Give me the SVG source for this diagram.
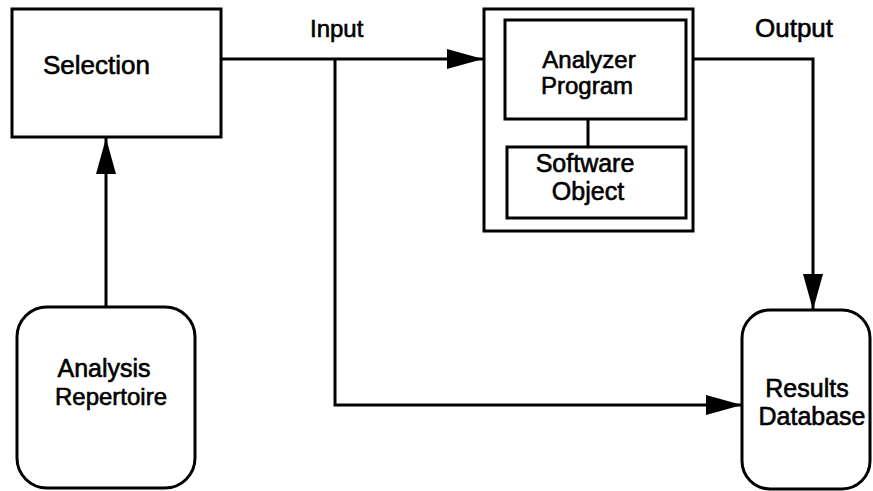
<svg xmlns="http://www.w3.org/2000/svg" width="873" height="491" viewBox="0 0 873 491">
<style>
.box{fill:#fff;stroke:#000;stroke-width:3}
.ln{fill:none;stroke:#000;stroke-width:3}
text{font-family:"Liberation Sans",Arial,Helvetica,sans-serif;font-size:24px;fill:#000;stroke:#000;stroke-width:0.6}
.m{text-anchor:middle}
</style>
<defs>
<marker id="ah" viewBox="0 0 36 20" refX="36" refY="10" markerWidth="36" markerHeight="20" markerUnits="userSpaceOnUse" orient="auto">
<path d="M0,0 L36,10 L0,20 Z" fill="#000"/>
</marker>
</defs>
<rect width="873" height="491" fill="#fff"/>
<g id="selection">
<rect class="box" x="12" y="9" width="209" height="128"/>
<text x="43" y="74" style="font-size:26px">Selection</text>
</g>
<g id="analyzer">
<rect class="box" x="484" y="9" width="209" height="222"/>
<g id="analyzer-program">
<rect class="box" x="505" y="20" width="181" height="99"/>
<text class="m" x="589" y="68">Analyzer</text>
<text class="m" x="587" y="94">Program</text>
</g>
<g id="software-object">
<rect class="box" x="507" y="147" width="179" height="71"/>
<text class="m" x="585" y="172" style="font-size:25px">Software</text>
<text class="m" x="588" y="200" style="font-size:25px">Object</text>
</g>
</g>
<g id="analysis-repertoire">
<rect class="box" x="17" y="307" width="178" height="181" rx="30"/>
<text class="m" x="104" y="377" style="font-size:25px">Analysis</text>
<text class="m" x="111" y="405">Repertoire</text>
</g>
<g id="results-database">
<rect class="box" x="742" y="310" width="128" height="179" rx="28"/>
<text class="m" x="807" y="397" style="font-size:25px">Results</text>
<text class="m" x="812" y="425" style="font-size:25px">Database</text>
</g>
<g id="labels">
<text x="310" y="37">Input</text>
<text x="755" y="37" style="font-size:26px">Output</text>
</g>
<g id="connectors">
<path class="ln" d="M221,59 H483" marker-end="url(#ah)"/>
<path class="ln" d="M335,59 V405 H742" marker-end="url(#ah)"/>
<path class="ln" d="M693,59 H813 V310" marker-end="url(#ah)"/>
<path class="ln" d="M106,307 V138" marker-end="url(#ah)"/>
<path class="ln" d="M588,119 V147"/>
</g>
</svg>
